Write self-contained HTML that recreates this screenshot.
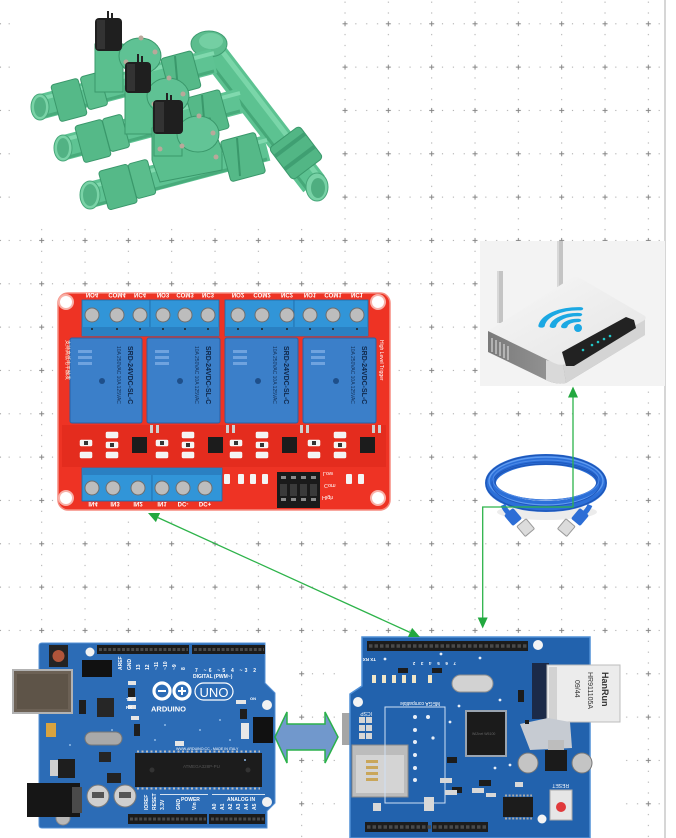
<!DOCTYPE html>
<html><head><meta charset="utf-8">
<style>
html,body{margin:0;padding:0;background:#fff;}
svg{display:block;}
text{font-family:"Liberation Sans",sans-serif;}
</style></head><body>
<svg width="676" height="838" viewBox="0 0 676 838" xmlns="http://www.w3.org/2000/svg">
<defs>
<pattern id="g" x="25.7" y="7.8" width="43.333" height="43.333" patternUnits="userSpaceOnUse">
 <rect x="13.5" y="15.5" width="5" height="1" fill="#858585"/>
 <rect x="15.5" y="13.5" width="1" height="5" fill="#858585"/>
 <rect x="26.3" y="15.5" width="1" height="1" fill="#999"/>
 <rect x="37.2" y="15.5" width="1" height="1" fill="#999"/>
 <rect x="4.7" y="15.5" width="1" height="1" fill="#999"/>
 <rect x="15.5" y="26.3" width="1" height="1" fill="#999"/>
 <rect x="15.5" y="37.2" width="1" height="1" fill="#999"/>
 <rect x="15.5" y="4.7" width="1" height="1" fill="#999"/>
</pattern>
<linearGradient id="rtTop" x1="0" y1="0" x2="1" y2="1"><stop offset="0" stop-color="#f7f7f7"/><stop offset="1" stop-color="#e4e4e4"/></linearGradient>
<linearGradient id="rtLeft" x1="0" y1="0" x2="1" y2="0"><stop offset="0" stop-color="#7a7a7a"/><stop offset="0.75" stop-color="#a8a8a8"/><stop offset="1" stop-color="#d6d6d6"/></linearGradient>
</defs>

<rect x="0" y="0" width="676" height="838" fill="#fff"/>
<rect x="0" y="0" width="664" height="838" fill="url(#g)"/>
<rect x="664" y="0" width="2" height="838" fill="#d6d6d6"/>

<!-- ================= VALVE MANIFOLD ================= -->
<rect x="14" y="0" width="326" height="226" fill="#fff"/>
<g>
 <!-- main diagonal pipe -->
 <line x1="208" y1="46" x2="314" y2="184" stroke="#5cc291" stroke-width="27"/>
 <line x1="215" y1="42" x2="321" y2="180" stroke="#7ad6a9" stroke-width="5"/>
 <line x1="201" y1="51" x2="307" y2="189" stroke="#45a878" stroke-width="3"/>
 <ellipse cx="209" cy="44" rx="18" ry="13" fill="#5cbd8e" stroke="#3f9d72"/>
 <ellipse cx="211" cy="41" rx="12" ry="8" fill="#74cfa3"/>
 <rect x="276" y="134" width="40" height="38" rx="4" fill="#52b685" stroke="#3a986b" transform="rotate(53 296 153)"/>
 <rect x="284" y="134" width="4" height="38" fill="#3f9f72" transform="rotate(53 296 153)"/>
 <rect x="300" y="134" width="4" height="38" fill="#3f9f72" transform="rotate(53 296 153)"/>
 <ellipse cx="317" cy="187" rx="11" ry="14" fill="#78d2a6" stroke="#46a679"/>
 <ellipse cx="318" cy="188" rx="7" ry="10" fill="#4fae80"/>

 <!-- pipe 1 -->
 <line x1="40" y1="107" x2="214" y2="61" stroke="#5ec393" stroke-width="25"/>
 <line x1="40" y1="99" x2="214" y2="53" stroke="#80d9ae" stroke-width="4"/>
 <line x1="42" y1="117" x2="214" y2="71" stroke="#48ab7b" stroke-width="3"/>
 <rect x="55" y="81" width="28" height="38" rx="3" fill="#55b988" stroke="#3a986b" transform="rotate(-15 69 100)"/>
 <rect x="84" y="74" width="20" height="34" rx="3" fill="#5abd8c" stroke="#3a986b" transform="rotate(-15 94 91)"/>
 <rect x="165" y="54" width="32" height="38" rx="3" fill="#55b988" stroke="#3a986b" transform="rotate(-15 181 73)"/>
 <line x1="175" y1="56" x2="178" y2="90" stroke="#3a986b" stroke-width="2"/>
 <ellipse cx="40" cy="107" rx="9" ry="13" fill="#7ad3a7" stroke="#47a87a"/>
 <ellipse cx="40" cy="107" rx="6" ry="10" fill="#52b284"/>

 <!-- valve 1 -->
 <rect x="95" y="44" width="28" height="48" fill="#5abf8e" stroke="#3a986b"/>
 <ellipse cx="140" cy="56" rx="21" ry="18" fill="#5fc294" stroke="#3a986b"/>
 <circle cx="141" cy="38" r="2.5" fill="#b9a89a"/><circle cx="155" cy="52" r="2.5" fill="#b9a89a"/><circle cx="126" cy="62" r="2.5" fill="#b9a89a"/>
 <rect x="95" y="18" width="27" height="33" rx="4" fill="#1f1f1f"/>
 <rect x="97" y="20" width="8" height="29" fill="#333"/>
 <line x1="108" y1="18" x2="108" y2="11" stroke="#222" stroke-width="2"/><line x1="112" y1="18" x2="112" y2="13" stroke="#222" stroke-width="2"/>

 <!-- pipe 2 -->
 <line x1="63" y1="148" x2="240" y2="101" stroke="#5ec393" stroke-width="25"/>
 <line x1="63" y1="140" x2="240" y2="93" stroke="#80d9ae" stroke-width="4"/>
 <line x1="65" y1="158" x2="240" y2="111" stroke="#48ab7b" stroke-width="3"/>
 <rect x="79" y="122" width="28" height="38" rx="3" fill="#55b988" stroke="#3a986b" transform="rotate(-15 93 141)"/>
 <rect x="106" y="116" width="20" height="34" rx="3" fill="#5abd8c" stroke="#3a986b" transform="rotate(-15 116 133)"/>
 <rect x="191" y="93" width="34" height="40" rx="3" fill="#55b988" stroke="#3a986b" transform="rotate(-15 208 113)"/>
 <line x1="202" y1="95" x2="205" y2="131" stroke="#3a986b" stroke-width="2"/>
 <ellipse cx="63" cy="148" rx="9" ry="13" fill="#7ad3a7" stroke="#47a87a"/>
 <ellipse cx="63" cy="148" rx="6" ry="10" fill="#52b284"/>

 <!-- valve 2 -->
 <rect x="125" y="86" width="28" height="48" fill="#5abf8e" stroke="#3a986b"/>
 <ellipse cx="168" cy="96" rx="21" ry="18" fill="#5fc294" stroke="#3a986b"/>
 <circle cx="169" cy="78" r="2.5" fill="#b9a89a"/><circle cx="183" cy="94" r="2.5" fill="#b9a89a"/><circle cx="154" cy="104" r="2.5" fill="#b9a89a"/>
 <rect x="125" y="62" width="26" height="31" rx="4" fill="#1f1f1f"/>
 <rect x="127" y="64" width="8" height="27" fill="#333"/>
 <line x1="138" y1="62" x2="138" y2="54" stroke="#222" stroke-width="2"/><line x1="142" y1="62" x2="142" y2="56" stroke="#222" stroke-width="2"/>

 <!-- pipe 3 -->
 <line x1="90" y1="195" x2="267" y2="148" stroke="#5ec393" stroke-width="26"/>
 <line x1="90" y1="187" x2="267" y2="140" stroke="#80d9ae" stroke-width="4"/>
 <line x1="92" y1="206" x2="267" y2="159" stroke="#48ab7b" stroke-width="3"/>
 <rect x="103" y="167" width="30" height="40" rx="3" fill="#55b988" stroke="#3a986b" transform="rotate(-15 118 187)"/>
 <rect x="132" y="161" width="20" height="36" rx="3" fill="#5abd8c" stroke="#3a986b" transform="rotate(-15 142 179)"/>
 <rect x="225" y="136" width="36" height="42" rx="3" fill="#55b988" stroke="#3a986b" transform="rotate(-15 243 157)"/>
 <line x1="237" y1="138" x2="240" y2="176" stroke="#3a986b" stroke-width="2"/>
 <ellipse cx="90" cy="195" rx="10" ry="14" fill="#7ad3a7" stroke="#47a87a"/>
 <ellipse cx="90" cy="195" rx="7" ry="11" fill="#52b284"/>

 <!-- valve 3 -->
 <path d="M152 128 L210 118 L222 150 L222 170 L160 182 L152 160 Z" fill="#5abf8e" stroke="#3a986b"/>
 <rect x="154" y="124" width="28" height="32" fill="#5abf8e" stroke="#3a986b"/>
 <ellipse cx="198" cy="134" rx="21" ry="18" fill="#62c496" stroke="#3a986b"/>
 <circle cx="199" cy="116" r="2.5" fill="#b9a89a"/><circle cx="213" cy="133" r="2.5" fill="#b9a89a"/><circle cx="182" cy="146" r="2.5" fill="#b9a89a"/><circle cx="216" cy="157" r="2.5" fill="#b9a89a"/><circle cx="160" cy="149" r="2.5" fill="#b9a89a"/>
 <rect x="153" y="100" width="30" height="34" rx="4" fill="#1f1f1f"/>
 <rect x="155" y="102" width="9" height="30" fill="#333"/>
 <line x1="167" y1="100" x2="167" y2="93" stroke="#222" stroke-width="2"/><line x1="171" y1="100" x2="171" y2="95" stroke="#222" stroke-width="2"/>
</g>

<!-- ================= RELAY BOARD ================= -->
<rect x="55" y="287" width="341" height="227" fill="#fff"/>
<g>
 <rect x="58" y="293" width="332" height="217" rx="10" fill="#ee3324" stroke="#f58c80" stroke-width="1.5"/>
 <rect x="62" y="425" width="324" height="42" fill="#e42c1e"/>
 <circle cx="66" cy="302" r="8" fill="#f8b1a8"/><circle cx="66" cy="302" r="6" fill="#fff"/>
 <circle cx="378" cy="302" r="8" fill="#f8b1a8"/><circle cx="378" cy="302" r="6" fill="#fff"/>
 <circle cx="66" cy="498" r="8" fill="#f8b1a8"/><circle cx="66" cy="498" r="6" fill="#fff"/>
 <circle cx="378" cy="498" r="8" fill="#f8b1a8"/><circle cx="378" cy="498" r="6" fill="#fff"/>
 <g fill="#fff" font-size="6" font-weight="bold" text-anchor="middle">
  <text transform="translate(92 293) scale(1,-1)">NO4</text>
  <text transform="translate(117 293) scale(1,-1)">COM4</text>
  <text transform="translate(140 293) scale(1,-1)">NC4</text>
  <text transform="translate(163 293) scale(1,-1)">NO3</text>
  <text transform="translate(185 293) scale(1,-1)">COM3</text>
  <text transform="translate(208 293) scale(1,-1)">NC3</text>
  <text transform="translate(238 293) scale(1,-1)">NO2</text>
  <text transform="translate(262 293) scale(1,-1)">COM2</text>
  <text transform="translate(287 293) scale(1,-1)">NC2</text>
  <text transform="translate(310 293) scale(1,-1)">NO1</text>
  <text transform="translate(333 293) scale(1,-1)">COM1</text>
  <text transform="translate(357 293) scale(1,-1)">NC1</text>
 </g>
 <g stroke="#1f6aa8" stroke-width="0.8">
  <rect x="82" y="300" width="68" height="36" fill="#3195d8"/>
  <rect x="150" y="300" width="69" height="36" fill="#3195d8"/>
  <rect x="225" y="300" width="69" height="36" fill="#3195d8"/>
  <rect x="294" y="300" width="74" height="36" fill="#3195d8"/>
 </g>
 <rect x="82" y="327" width="137" height="9" fill="#2a80c2"/>
 <rect x="225" y="327" width="143" height="9" fill="#2a80c2"/>
 <g fill="#bdbdbd" stroke="#6e6e6e" stroke-width="1">
  <circle cx="92" cy="315" r="7"/><circle cx="117" cy="315" r="7"/><circle cx="140" cy="315" r="7"/>
  <circle cx="163" cy="315" r="7"/><circle cx="185" cy="315" r="7"/><circle cx="208" cy="315" r="7"/>
  <circle cx="238" cy="315" r="7"/><circle cx="262" cy="315" r="7"/><circle cx="287" cy="315" r="7"/>
  <circle cx="310" cy="315" r="7"/><circle cx="333" cy="315" r="7"/><circle cx="357" cy="315" r="7"/>
 </g>
 <g fill="#222"><circle cx="92" cy="329" r="1"/><circle cx="117" cy="329" r="1"/><circle cx="140" cy="329" r="1"/><circle cx="163" cy="329" r="1"/><circle cx="185" cy="329" r="1"/><circle cx="208" cy="329" r="1"/><circle cx="238" cy="329" r="1"/><circle cx="262" cy="329" r="1"/><circle cx="287" cy="329" r="1"/><circle cx="310" cy="329" r="1"/><circle cx="333" cy="329" r="1"/><circle cx="357" cy="329" r="1"/></g>
 <g stroke="#2a62a6" stroke-width="1">
  <rect x="70" y="338" width="72" height="85" rx="2" fill="#3b7fc9"/>
  <rect x="147" y="338" width="73" height="85" rx="2" fill="#3b7fc9"/>
  <rect x="225" y="338" width="73" height="85" rx="2" fill="#3b7fc9"/>
  <rect x="303" y="338" width="73" height="85" rx="2" fill="#3b7fc9"/>
 </g>
 <g fill="#10284a" font-size="7" font-weight="bold">
  <text transform="translate(128 346) rotate(90)">SRD-24VDC-SL-C</text>
  <text transform="translate(206 346) rotate(90)">SRD-24VDC-SL-C</text>
  <text transform="translate(284 346) rotate(90)">SRD-24VDC-SL-C</text>
  <text transform="translate(362 346) rotate(90)">SRD-24VDC-SL-C</text>
 </g>
 <g fill="#14335c" font-size="5">
  <text transform="translate(117 346) rotate(90)">10A 250VAC 10A 125VAC</text>
  <text transform="translate(195 346) rotate(90)">10A 250VAC 10A 125VAC</text>
  <text transform="translate(273 346) rotate(90)">10A 250VAC 10A 125VAC</text>
  <text transform="translate(351 346) rotate(90)">10A 250VAC 10A 125VAC</text>
 </g>
 <g fill="#6fa3df">
  <rect x="78" y="350" width="14" height="3"/><rect x="78" y="356" width="14" height="3"/><rect x="78" y="362" width="14" height="3"/>
  <rect x="155" y="350" width="14" height="3"/><rect x="155" y="356" width="14" height="3"/><rect x="155" y="362" width="14" height="3"/>
  <rect x="233" y="350" width="14" height="3"/><rect x="233" y="356" width="14" height="3"/><rect x="233" y="362" width="14" height="3"/>
  <rect x="311" y="350" width="14" height="3"/><rect x="311" y="356" width="14" height="3"/><rect x="311" y="362" width="14" height="3"/>
 </g>
 <g fill="#1e4f8a"><circle cx="102" cy="381" r="3"/><circle cx="180" cy="381" r="3"/><circle cx="258" cy="381" r="3"/><circle cx="336" cy="381" r="3"/></g>
 <g fill="#1c1c1c">
  <rect x="132" y="437" width="15" height="16"/><rect x="208" y="437" width="15" height="16"/>
  <rect x="282" y="437" width="15" height="16"/><rect x="360" y="437" width="15" height="16"/>
 </g>
 <g fill="#f3f3f3" stroke="#fff" stroke-width="0.5">
  <rect x="80" y="440" width="12" height="6" rx="1"/><rect x="106" y="432" width="12" height="6" rx="1"/><rect x="106" y="442" width="12" height="6" rx="1"/><rect x="80" y="452" width="12" height="6" rx="1"/><rect x="106" y="452" width="12" height="6" rx="1"/>
  <rect x="156" y="440" width="12" height="6" rx="1"/><rect x="182" y="432" width="12" height="6" rx="1"/><rect x="182" y="442" width="12" height="6" rx="1"/><rect x="156" y="452" width="12" height="6" rx="1"/><rect x="182" y="452" width="12" height="6" rx="1"/>
  <rect x="230" y="440" width="12" height="6" rx="1"/><rect x="256" y="432" width="12" height="6" rx="1"/><rect x="256" y="442" width="12" height="6" rx="1"/><rect x="230" y="452" width="12" height="6" rx="1"/><rect x="256" y="452" width="12" height="6" rx="1"/>
  <rect x="308" y="440" width="12" height="6" rx="1"/><rect x="334" y="432" width="12" height="6" rx="1"/><rect x="334" y="442" width="12" height="6" rx="1"/><rect x="308" y="452" width="12" height="6" rx="1"/><rect x="334" y="452" width="12" height="6" rx="1"/>
 </g>
 <g fill="#333"><rect x="84" y="441" width="4" height="4"/><rect x="110" y="443" width="4" height="4"/><rect x="160" y="441" width="4" height="4"/><rect x="186" y="443" width="4" height="4"/><rect x="234" y="441" width="4" height="4"/><rect x="260" y="443" width="4" height="4"/><rect x="312" y="441" width="4" height="4"/><rect x="338" y="443" width="4" height="4"/></g>
 <g fill="#cfcfcf"><rect x="150" y="425" width="3" height="8"/><rect x="156" y="425" width="3" height="8"/><rect x="226" y="425" width="3" height="8"/><rect x="232" y="425" width="3" height="8"/><rect x="300" y="425" width="3" height="8"/><rect x="306" y="425" width="3" height="8"/><rect x="378" y="425" width="3" height="8"/><rect x="372" y="425" width="3" height="8"/></g>
 <rect x="82" y="468" width="70" height="33" fill="#3195d8" stroke="#1f6aa8" stroke-width="0.8"/>
 <rect x="152" y="468" width="70" height="33" fill="#3195d8" stroke="#1f6aa8" stroke-width="0.8"/>
 <rect x="82" y="468" width="140" height="7" fill="#2a80c2"/>
 <g fill="#bdbdbd" stroke="#6e6e6e" stroke-width="1">
  <circle cx="92" cy="488" r="7"/><circle cx="113" cy="488" r="7"/><circle cx="138" cy="488" r="7"/>
  <circle cx="162" cy="488" r="7"/><circle cx="183" cy="488" r="7"/><circle cx="205" cy="488" r="7"/>
 </g>
 <g fill="#fff" font-size="6" font-weight="bold" text-anchor="middle">
  <text transform="translate(93 502) scale(1,-1)">IN4</text>
  <text transform="translate(115 502) scale(1,-1)">IN3</text>
  <text transform="translate(138 502) scale(1,-1)">IN2</text>
  <text transform="translate(162 502) scale(1,-1)">IN1</text>
  <text transform="translate(183 502) scale(1,-1)">DC-</text>
  <text transform="translate(205 502) scale(1,-1)">DC+</text>
 </g>
 <rect x="277" y="472" width="43" height="36" fill="#1a1a1a"/>
 <g fill="#8a8a8a"><rect x="281" y="476" width="5" height="3"/><rect x="291" y="476" width="5" height="3"/><rect x="301" y="476" width="5" height="3"/><rect x="311" y="476" width="5" height="3"/>
 <rect x="281" y="498" width="5" height="3"/><rect x="291" y="498" width="5" height="3"/><rect x="301" y="498" width="5" height="3"/><rect x="311" y="498" width="5" height="3"/></g>
 <g fill="#3a3a3a"><rect x="280" y="484" width="7" height="12"/><rect x="290" y="484" width="7" height="12"/><rect x="300" y="484" width="7" height="12"/><rect x="310" y="484" width="7" height="12"/></g>
 <g fill="#fff" font-size="5.5"><text transform="translate(323 472) scale(1,-1)">Low</text><text transform="translate(324 484) scale(1,-1)">Com</text><text transform="translate(322 496) scale(1,-1)">High</text></g>
 <g fill="#f4f4f4"><rect x="224" y="474" width="6" height="10" rx="1"/><rect x="238" y="474" width="6" height="10" rx="1"/><rect x="250" y="474" width="6" height="10" rx="1"/><rect x="262" y="474" width="6" height="10" rx="1"/><rect x="346" y="474" width="6" height="10" rx="1"/><rect x="358" y="474" width="6" height="10" rx="1"/></g>
 <g fill="#fff" font-size="5"><text transform="translate(380 340) rotate(90)">High Level Trigger</text></g>
 <g fill="#ffe" font-size="5"><text transform="translate(66 340) rotate(90)">支持高低电平触发</text></g>
</g>

<!-- ================= ROUTER ================= -->
<rect x="480" y="241" width="185" height="145" fill="#f3f3f3"/>
<g>
 <rect x="497" y="271" width="6" height="52" fill="#c4c4c4"/><rect x="497" y="271" width="2" height="52" fill="#d8d8d8"/>
 <rect x="557" y="241" width="6" height="46" fill="#c4c4c4"/><rect x="557" y="241" width="2" height="46" fill="#d8d8d8"/>
 <path d="M488 331 L488 352 L546 380 Q556 385 566 383 L645 335 L645 318 Z" fill="url(#rtLeft)"/>
 <path d="M563 364 L645 318 L645 335 L566 383 Z" fill="#d4d4d4"/>
 <path d="M546 360 L563 364 L566 383 Q556 385 546 380 Z" fill="#d9d9d9"/>
 <path d="M488 331 L570 279 Q575 276 580 278 L645 316 Q647 319 643 321 L566 364 Q560 366 554 363 Z" fill="url(#rtTop)"/>
 <g stroke="#e8e8e8" stroke-width="1"><line x1="492" y1="338" x2="492" y2="352"/><line x1="496" y1="340" x2="496" y2="354"/><line x1="500" y1="342" x2="500" y2="356"/><line x1="504" y1="344" x2="504" y2="358"/><line x1="508" y1="346" x2="508" y2="360"/></g>
 <path d="M562 352 L626 317 L634 320 L636 328 L574 366 L566 366 Z" fill="#222"/>
 <g fill="#21c7c9"><circle cx="583" cy="350" r="1.3"/><circle cx="592" cy="345" r="1.3"/><circle cx="598" cy="342" r="1.3"/><circle cx="604" cy="339" r="1.3"/><circle cx="610" cy="336" r="1.3"/></g>
 <g transform="matrix(1.42,0.04,-0.12,0.73,577,327)" fill="none" stroke="#1ba8e3" stroke-width="4.5" stroke-linecap="round">
  <path d="M-9 0 A9 9 0 0 1 0 -9"/>
  <path d="M-17 0 A17 17 0 0 1 0 -17"/>
  <path d="M-25 0 A25 25 0 0 1 0 -25"/>
 </g>
 <circle cx="578" cy="328" r="4" fill="#1ba8e3"/>
</g>

<!-- ================= CABLE ================= -->
<rect x="482" y="450" width="130" height="90" fill="#fff"/>
<g>
 <ellipse cx="547" cy="512" rx="50" ry="8" fill="#ececec"/>
 <ellipse cx="546" cy="483" rx="55.5" ry="23.5" fill="none" stroke="#2b6fd8" stroke-width="11"/>
 <ellipse cx="546" cy="483" rx="60" ry="28" fill="none" stroke="#1e55b5" stroke-width="1.2"/>
 <ellipse cx="546" cy="482" rx="51" ry="18" fill="none" stroke="#1e55b5" stroke-width="1.2"/>
 <ellipse cx="546" cy="481" rx="57" ry="24" fill="none" stroke="#5f9bf0" stroke-width="1.4"/>
 <ellipse cx="546" cy="484" rx="54" ry="22" fill="none" stroke="#1f58bd" stroke-width="1"/>
 <ellipse cx="546" cy="480" rx="53" ry="20" fill="none" stroke="#4d8ae8" stroke-width="1"/>
 <path d="M503 505 Q506 512 512 516" stroke="#2b6fd8" stroke-width="5" fill="none"/>
 <path d="M590 505 Q587 512 581 516" stroke="#2b6fd8" stroke-width="5" fill="none"/>
 <rect x="507" y="510" width="12" height="14" rx="2" fill="#2d6ed6" transform="rotate(-40 513 517)"/>
 <rect x="520" y="521" width="12" height="13" rx="1" fill="#dcdcdc" stroke="#9a9a9a" transform="rotate(-40 526 528)"/>
 <rect x="574" y="510" width="12" height="14" rx="2" fill="#2d6ed6" transform="rotate(40 580 517)"/>
 <rect x="560" y="521" width="12" height="13" rx="1" fill="#dcdcdc" stroke="#9a9a9a" transform="rotate(40 566 528)"/>
</g>

<!-- ================= ARDUINO UNO ================= -->
<rect x="0" y="636" width="298" height="202" fill="#fff"/>
<g>
 <path d="M42 643 H265 V683 L275 693 V803 L267 811 V828 H42 Q39 828 39 825 V646 Q39 643 42 643 Z" fill="#2c6cb6" stroke="#5590d4" stroke-width="1"/>
 <circle cx="90" cy="652" r="4.5" fill="#f2f2f2"/>
 <circle cx="267" cy="705" r="5" fill="#f2f2f2"/>
 <circle cx="267" cy="802" r="5" fill="#f2f2f2"/>
 <circle cx="63" cy="818" r="7" fill="#b8b8b8" stroke="#888"/>
 <rect x="13" y="670" width="59" height="43" fill="#6c6155" stroke="#b2b2b2" stroke-width="2"/>
 <rect x="17" y="674" width="51" height="35" fill="#5e5448"/>
 <rect x="49" y="645" width="19" height="22" fill="#232323"/>
 <circle cx="58.5" cy="656" r="6" fill="#b0553a"/>
 <rect x="27" y="783" width="53" height="34" fill="#161616"/>
 <rect x="72" y="787" width="10" height="26" fill="#4a4a4a"/>
 <rect x="97" y="645" width="92" height="9" fill="#1b1b1b"/>
 <rect x="192" y="645" width="73" height="9" fill="#1b1b1b"/>
 <line x1="99" y1="649.5" x2="188" y2="649.5" stroke="#4a4a4a" stroke-width="3" stroke-dasharray="3 1.6"/>
 <line x1="194" y1="649.5" x2="264" y2="649.5" stroke="#4a4a4a" stroke-width="3" stroke-dasharray="3 1.6"/>
 <rect x="128" y="814" width="79" height="10" fill="#1b1b1b"/>
 <rect x="209" y="814" width="56" height="10" fill="#1b1b1b"/>
 <line x1="130" y1="819" x2="206" y2="819" stroke="#4a4a4a" stroke-width="3" stroke-dasharray="3 1.6"/>
 <line x1="211" y1="819" x2="264" y2="819" stroke="#4a4a4a" stroke-width="3" stroke-dasharray="3 1.6"/>
 <rect x="82" y="660" width="30" height="17" fill="#111"/>
 <rect x="253" y="717" width="20" height="26" fill="#111"/>
 <rect x="241" y="723" width="8" height="16" fill="#e8e8e8"/>
 <rect x="97" y="698" width="17" height="19" fill="#262626"/>
 <rect x="135" y="753" width="127" height="34" fill="#1c1c1c"/>
 <line x1="137" y1="751.5" x2="260" y2="751.5" stroke="#bdbdbd" stroke-width="2" stroke-dasharray="2 2.5"/>
 <line x1="137" y1="788.5" x2="260" y2="788.5" stroke="#bdbdbd" stroke-width="2" stroke-dasharray="2 2.5"/>
 <circle cx="152" cy="770" r="2.5" fill="#333"/><circle cx="248" cy="770" r="2.5" fill="#333"/>
 <text x="183" y="768" font-size="4.5" fill="#555">ATMEGA328P-PU</text>
 <rect x="85" y="732" width="37" height="13" rx="6.5" fill="#a9a9a9" stroke="#777"/>
 <rect x="99" y="752" width="12" height="10" fill="#252525"/>
 <rect x="50" y="760" width="10" height="16" fill="#d0d0d0"/>
 <rect x="58" y="759" width="17" height="19" fill="#1e1e1e"/>
 <rect x="46" y="723" width="10" height="14" fill="#d8a340"/>
 <circle cx="98" cy="796" r="11" fill="#cfcfcf" stroke="#7a7a7a"/>
 <circle cx="125" cy="796" r="11" fill="#cfcfcf" stroke="#7a7a7a"/>
 <rect x="92" y="792" width="12" height="6" fill="#555"/><rect x="119" y="792" width="12" height="6" fill="#555"/>
 <rect x="107" y="773" width="14" height="10" fill="#222"/>
 <g fill="#e6e6e6"><rect x="128" y="681" width="8" height="4"/><rect x="128" y="697" width="8" height="4"/><rect x="128" y="705" width="8" height="4"/><rect x="131" y="716" width="8" height="4"/><rect x="236" y="700" width="10" height="4"/><rect x="175" y="741" width="9" height="5"/></g>
 <g fill="#1e1e1e"><rect x="79" y="700" width="7" height="14"/><rect x="134" y="724" width="6" height="12"/><rect x="240" y="709" width="7" height="10"/><rect x="128" y="688" width="7" height="9"/></g>
 <g fill="none" stroke="#fff" stroke-width="3.2">
  <circle cx="162" cy="691" r="8"/><circle cx="182" cy="691" r="8"/>
 </g>
 <rect x="158" y="690" width="8" height="2" fill="#fff"/>
 <rect x="178" y="690" width="8" height="2" fill="#fff"/><rect x="181" y="687" width="2" height="8" fill="#fff"/>
 <rect x="195" y="683" width="38" height="17" rx="8.5" fill="none" stroke="#fff" stroke-width="1.2"/>
 <text x="214" y="697" font-size="13" fill="#fff" text-anchor="middle">UNO</text>
 <text x="151" y="711.5" font-size="7.5" font-weight="bold" fill="#fff">ARDUINO</text>
 <text x="193" y="678" font-size="5" font-weight="bold" fill="#fff">DIGITAL (PWM~)</text>
 <text x="195" y="672" font-size="5" font-weight="bold" fill="#fff" letter-spacing="2.2">7 ~6 ~5 4 ~3 2</text>
 <g font-size="5" font-weight="bold" fill="#fff">
  <text transform="translate(122 670) rotate(-90)">AREF</text>
  <text transform="translate(131 670) rotate(-90)">GND</text>
  <text transform="translate(140 670) rotate(-90)">13</text>
  <text transform="translate(149 670) rotate(-90)">12</text>
  <text transform="translate(158 670) rotate(-90)">~11</text>
  <text transform="translate(167 670) rotate(-90)">~10</text>
  <text transform="translate(176 670) rotate(-90)">~9</text>
  <text transform="translate(185 670) rotate(-90)">8</text>
  <text transform="translate(148 810) rotate(-90)">IOREF</text>
  <text transform="translate(156 810) rotate(-90)">RESET</text>
  <text transform="translate(164 810) rotate(-90)">3.3V</text>
  <text transform="translate(180 810) rotate(-90)">GND</text>
  <text transform="translate(196 810) rotate(-90)">Vin</text>
  <text transform="translate(216 810) rotate(-90)">A0</text>
  <text transform="translate(224 810) rotate(-90)">A1</text>
  <text transform="translate(232 810) rotate(-90)">A2</text>
  <text transform="translate(240 810) rotate(-90)">A3</text>
  <text transform="translate(248 810) rotate(-90)">A4</text>
  <text transform="translate(256 810) rotate(-90)">A5</text>
 </g>
 <text x="181" y="801" font-size="5" font-weight="bold" fill="#fff">POWER</text>
 <text x="227" y="801" font-size="5" font-weight="bold" fill="#fff">ANALOG IN</text>
 <rect x="160" y="794" width="48" height="0.8" fill="#fff"/><rect x="212" y="794" width="53" height="0.8" fill="#fff"/>
 <text x="176" y="750" font-size="3.6" fill="#fff">WWW.ARDUINO.CC - MADE IN ITALY</text>
 <text x="126" y="701" font-size="4.5" font-weight="bold" fill="#fff">TX</text>
 <text x="126" y="709" font-size="4.5" font-weight="bold" fill="#fff">RX</text>
 <text x="250" y="700" font-size="4" font-weight="bold" fill="#fff">ON</text>
 <g fill="#8fb9e6"><circle cx="200" cy="730" r="1"/><circle cx="220" cy="720" r="1"/><circle cx="230" cy="740" r="1"/><circle cx="165" cy="725" r="1"/><circle cx="155" cy="740" r="1"/><circle cx="112" cy="730" r="1"/><circle cx="70" cy="745" r="1"/><circle cx="245" cy="760" r="1"/></g>
</g>

<!-- ================= DOUBLE ARROW ================= -->
<polygon points="275,737 287,712 287,724 325,724 325,712 338,737 325,763 325,750 287,750 287,763" fill="#7198cc" stroke="#2bb14b" stroke-width="1.5" stroke-linejoin="miter"/>

<!-- ================= ETHERNET SHIELD ================= -->
<rect x="340" y="636" width="282" height="202" fill="#fff"/>
<g>
 <rect x="342" y="713" width="9" height="32" fill="#a6a6a6"/>
 <path d="M362 637 H590 V838 H350 V694 L362 686 Z" fill="#2262ad" stroke="#4f8fd6" stroke-width="1.5"/>
 <rect x="367" y="641" width="161" height="10" fill="#1c1c1c"/>
 <line x1="369" y1="646" x2="527" y2="646" stroke="#4a4a4a" stroke-width="3.5" stroke-dasharray="3.5 2"/>
 <circle cx="538" cy="645" r="5" fill="#f4f4f4"/>
 <circle cx="358" cy="702" r="5" fill="#f4f4f4"/>
 <circle cx="542" cy="819" r="4.5" fill="#f4f4f4"/>
 <rect x="373" y="803" width="8" height="8" fill="#d8d8d8"/>
 <g font-size="4.5" font-weight="bold" fill="#fff">
  <text transform="translate(376 658) rotate(180)">TX RX</text>
  <text transform="translate(456 662) rotate(180)" letter-spacing="2.2">7 6 5 4 3 2</text>
 </g>
 <!-- RJ45 -->
 <rect x="532" y="663" width="17" height="56" fill="#1b2a48"/>
 <rect x="547" y="665" width="73" height="57" fill="#ececec" stroke="#bdbdbd"/>
 <rect x="549" y="667" width="8" height="53" fill="#d2d2d2"/>
 <text transform="translate(602 672) rotate(90)" font-size="9" font-weight="bold" fill="#333">HanRun</text>
 <text transform="translate(588 672) rotate(90)" font-size="7" fill="#333">HR911105A</text>
 <text transform="translate(575 680) rotate(90)" font-size="7" fill="#333">09/44</text>
 <rect x="452" y="675" width="41" height="17" rx="8.5" fill="#d2d2d2" stroke="#8f8f8f"/>
 <rect x="465" y="710" width="42" height="47" fill="#9aa4b0"/>
 <rect x="467" y="712" width="38" height="43" fill="#1b1b1b"/>
 <text x="472" y="735" font-size="3.5" fill="#666">WIZnet W5100</text>
 <rect x="352" y="745" width="56" height="52" fill="#bcbcbc" stroke="#8a8a8a"/>
 <rect x="356" y="755" width="48" height="38" fill="#d4d4d4"/>
 <g fill="#c9a65a"><rect x="366" y="760" width="12" height="3"/><rect x="366" y="766" width="12" height="3"/><rect x="366" y="772" width="12" height="3"/><rect x="366" y="778" width="12" height="3"/></g>
 <rect x="385" y="707" width="60" height="96" fill="none" stroke="#cfe0f5" stroke-width="1"/>
 <text transform="translate(420 702) rotate(180)" font-size="5" fill="#fff" text-anchor="middle">MEGA compatible</text>
 <text transform="translate(372 712) rotate(180)" font-size="5" fill="#fff">ICSP</text>
 <g fill="#d6d6d6"><rect x="359" y="717" width="6" height="6"/><rect x="366" y="717" width="6" height="6"/><rect x="359" y="725" width="6" height="6"/><rect x="366" y="725" width="6" height="6"/><rect x="359" y="733" width="6" height="6"/><rect x="366" y="733" width="6" height="6"/></g>
 <path d="M520 724 L548 718 L570 722 L572 748 L530 750 Z" fill="#c6cbd2"/>
 <rect x="548" y="740" width="16" height="10" fill="#bdbdbd"/>
 <rect x="545" y="750" width="22" height="21" fill="#1b1b1b"/>
 <circle cx="528" cy="763" r="10" fill="#c4c4c4" stroke="#777"/>
 <circle cx="582" cy="763" r="10" fill="#c4c4c4" stroke="#777"/>
 <rect x="550" y="790" width="22" height="30" fill="#e6e6e6" stroke="#aaa"/>
 <circle cx="561" cy="807" r="5" fill="#e0393b"/>
 <text transform="translate(569 784) rotate(180)" font-size="5" fill="#fff">RESET</text>
 <rect x="365" y="822" width="63" height="10" fill="#1c1c1c"/>
 <rect x="432" y="822" width="56" height="10" fill="#1c1c1c"/>
 <line x1="367" y1="827" x2="487" y2="827" stroke="#4a4a4a" stroke-width="3.5" stroke-dasharray="3.5 2"/>
 <rect x="503" y="797" width="30" height="20" fill="#1c1c1c"/>
 <line x1="505" y1="795.5" x2="532" y2="795.5" stroke="#aaa" stroke-width="2" stroke-dasharray="2 1.6"/>
 <line x1="505" y1="818.5" x2="532" y2="818.5" stroke="#aaa" stroke-width="2" stroke-dasharray="2 1.6"/>
 <g fill="#f0e6c8"><rect x="372" y="675" width="4" height="8"/><rect x="382" y="675" width="4" height="8"/><rect x="392" y="675" width="4" height="8"/><rect x="402" y="675" width="4" height="8"/><rect x="412" y="675" width="4" height="8"/><rect x="428" y="675" width="4" height="8"/></g>
 <g fill="#1c1c1c"><rect x="398" y="668" width="10" height="5"/><rect x="432" y="668" width="10" height="5"/><rect x="518" y="690" width="6" height="12"/><rect x="525" y="720" width="4" height="4"/><rect x="447" y="757" width="10" height="6"/><rect x="452" y="787" width="10" height="6"/><rect x="479" y="780" width="12" height="6"/></g>
 <g fill="#d8d8d8"><rect x="440" y="778" width="12" height="5"/><rect x="445" y="790" width="12" height="5"/><rect x="472" y="788" width="12" height="5"/><rect x="424" y="797" width="10" height="14"/><rect x="515" y="782" width="8" height="5"/><rect x="486" y="793" width="10" height="4"/></g>
 <g fill="#e8eef7"><circle cx="415" cy="717" r="2"/><circle cx="428" cy="717" r="2"/><circle cx="415" cy="730" r="2"/><circle cx="415" cy="742" r="2"/><circle cx="415" cy="755" r="2"/><circle cx="415" cy="768" r="2"/><circle cx="415" cy="780" r="2"/><circle cx="433" cy="738" r="1.6"/><circle cx="450" cy="722" r="1.4"/><circle cx="459" cy="706" r="1.4"/><circle cx="500" cy="700" r="1.4"/><circle cx="510" cy="765" r="1.4"/><circle cx="495" cy="768" r="1.4"/><circle cx="385" cy="659" r="1.4"/><circle cx="441" cy="654" r="1.4"/><circle cx="480" cy="658" r="1.4"/></g>
</g>

<!-- ================= CONNECTORS ================= -->
<g stroke="#2db34a" stroke-width="1.3" fill="none">
 <line x1="158" y1="517.6" x2="410" y2="632.4"/>
 <polyline points="573,397 573,507 482.7,507 482.7,618"/>
</g>
<g fill="#22a83f">
 <polygon points="148,513 155.9,522.1 160.1,513"/>
 <polygon points="420,637 407.9,637 412.1,627.9"/>
 <polygon points="573,386.5 568,397.5 578,397.5"/>
 <polygon points="482.7,628.5 477.7,617.5 487.7,617.5"/>
</g>
</svg>
</body></html>
